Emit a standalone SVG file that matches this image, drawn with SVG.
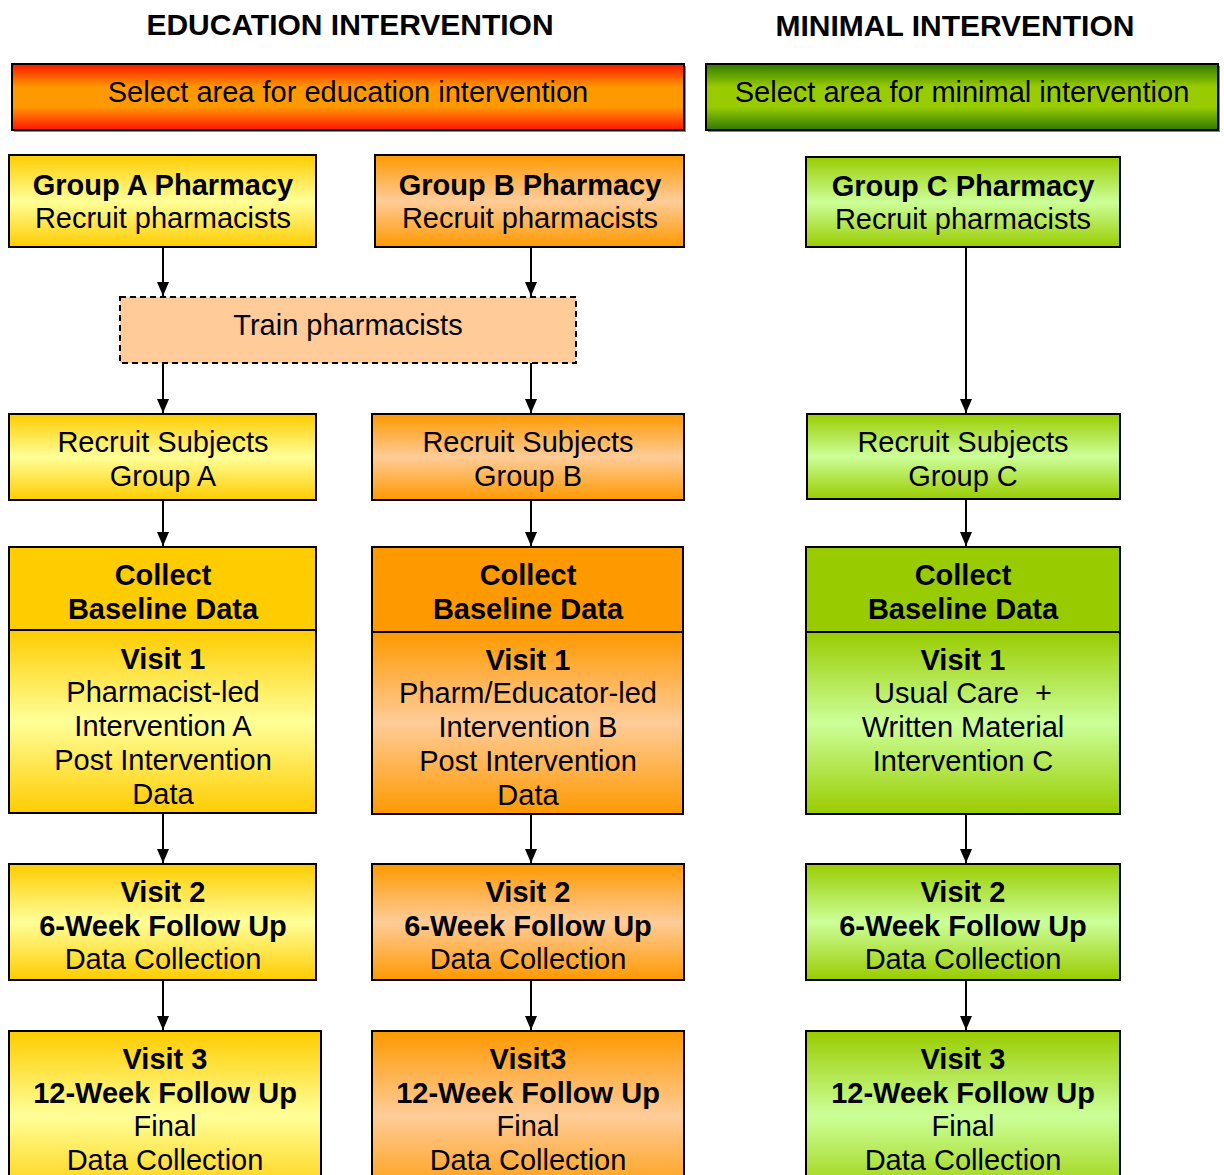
<svg xmlns="http://www.w3.org/2000/svg" width="1224" height="1175" viewBox="0 0 1224 1175">
<defs>
<linearGradient id="gy" x1="0" y1="0" x2="0" y2="1">
<stop offset="0" stop-color="#FFCC00"/><stop offset="0.5" stop-color="#FFFF99"/><stop offset="1" stop-color="#FFCC00"/>
</linearGradient>
<linearGradient id="go" x1="0" y1="0" x2="0" y2="1">
<stop offset="0" stop-color="#FF9900"/><stop offset="0.5" stop-color="#FFCC99"/><stop offset="1" stop-color="#FF9900"/>
</linearGradient>
<linearGradient id="gg" x1="0" y1="0" x2="0" y2="1">
<stop offset="0" stop-color="#99CC00"/><stop offset="0.5" stop-color="#CCFF99"/><stop offset="1" stop-color="#99CC00"/>
</linearGradient>
<linearGradient id="gr" x1="0" y1="0" x2="0" y2="1">
<stop offset="0" stop-color="#FF1500"/><stop offset="0.35" stop-color="#FF9900"/><stop offset="0.65" stop-color="#FF9900"/><stop offset="1" stop-color="#FF1500"/>
</linearGradient>
<linearGradient id="gd" x1="0" y1="0" x2="0" y2="1">
<stop offset="0" stop-color="#2F7A00"/><stop offset="0.35" stop-color="#99CC00"/><stop offset="0.65" stop-color="#99CC00"/><stop offset="1" stop-color="#2F7A00"/>
</linearGradient>
<marker id="ah" viewBox="0 0 14 12" refX="14" refY="6" markerWidth="14" markerHeight="12" markerUnits="userSpaceOnUse" orient="auto">
<path d="M0,0 L14,6 L0,12 Z" fill="#000"/>
</marker>
</defs>
<style>
text{font-family:"Liberation Sans",Arial,sans-serif;font-size:29px;fill:#000;text-anchor:middle}
.b{font-weight:bold}
.t{font-weight:bold;font-size:30px}
.box{stroke:#000;stroke-width:2}
.sh{fill:#888}
.c line{stroke:#000;stroke-width:2}
</style>

<text class="t" x="350" y="35">EDUCATION INTERVENTION</text>
<text class="t" x="955" y="36">MINIMAL INTERVENTION</text>

<g id="banner-edu">
<rect class="sh" x="14" y="66" width="672" height="66"/>
<rect class="box" x="12" y="64" width="672" height="66" fill="url(#gr)"/>
<text x="348" y="102">Select area for education intervention</text>
</g>
<g id="banner-min">
<rect class="sh" x="708" y="66" width="512" height="66"/>
<rect class="box" x="706" y="64" width="512" height="66" fill="url(#gd)"/>
<text x="962" y="102">Select area for minimal intervention</text>
</g>

<g id="groupA">
<rect class="box" x="9" y="155" width="307" height="92" fill="url(#gy)"/>
<text class="b" x="163" y="195">Group A Pharmacy</text>
<text x="163" y="228">Recruit pharmacists</text>
</g>
<g id="groupB">
<rect class="box" x="375" y="155" width="309" height="92" fill="url(#go)"/>
<text class="b" x="530" y="195">Group B Pharmacy</text>
<text x="530" y="228">Recruit pharmacists</text>
</g>
<g id="groupC">
<rect class="box" x="806" y="157" width="314" height="90" fill="url(#gg)"/>
<text class="b" x="963" y="196">Group C Pharmacy</text>
<text x="963" y="229">Recruit pharmacists</text>
</g>

<g id="train">
<rect x="120" y="297" width="456" height="66" fill="#FFCC99" stroke="#000" stroke-width="2" stroke-dasharray="6,4"/>
<text x="348" y="335">Train pharmacists</text>
</g>

<g id="recruitA">
<rect class="box" x="9" y="414" width="307" height="86" fill="url(#gy)"/>
<text x="163" y="452">Recruit Subjects</text>
<text x="163" y="486">Group A</text>
</g>
<g id="recruitB">
<rect class="box" x="372" y="414" width="312" height="86" fill="url(#go)"/>
<text x="528" y="452">Recruit Subjects</text>
<text x="528" y="486">Group B</text>
</g>
<g id="recruitC">
<rect class="box" x="807" y="414" width="313" height="85" fill="url(#gg)"/>
<text x="963" y="452">Recruit Subjects</text>
<text x="963" y="486">Group C</text>
</g>

<g id="collectA">
<rect class="box" x="9" y="630" width="307" height="183" fill="url(#gy)"/>
<rect class="box" x="9" y="547" width="307" height="83" fill="#FFCC00"/>
<text class="b" x="163" y="585">Collect</text>
<text class="b" x="163" y="619">Baseline Data</text>
<text class="b" x="163" y="669">Visit 1</text>
<text x="163" y="702">Pharmacist-led</text>
<text x="163" y="736">Intervention A</text>
<text x="163" y="770">Post Intervention</text>
<text x="163" y="804">Data</text>
</g>
<g id="collectB">
<rect class="box" x="372" y="632" width="311" height="182" fill="url(#go)"/>
<rect class="box" x="372" y="547" width="311" height="85" fill="#FF9900"/>
<text class="b" x="528" y="585">Collect</text>
<text class="b" x="528" y="619">Baseline Data</text>
<text class="b" x="528" y="670">Visit 1</text>
<text x="528" y="703">Pharm/Educator-led</text>
<text x="528" y="737">Intervention B</text>
<text x="528" y="771">Post Intervention</text>
<text x="528" y="805">Data</text>
</g>
<g id="collectC">
<rect class="box" x="806" y="632" width="314" height="182" fill="url(#gg)"/>
<rect class="box" x="806" y="547" width="314" height="85" fill="#99CC00"/>
<text class="b" x="963" y="585">Collect</text>
<text class="b" x="963" y="619">Baseline Data</text>
<text class="b" x="963" y="670">Visit 1</text>
<text x="963" y="703" xml:space="preserve">Usual Care  +</text>
<text x="963" y="737">Written Material</text>
<text x="963" y="771">Intervention C</text>
</g>

<g id="visit2A">
<rect class="box" x="9" y="864" width="307" height="116" fill="url(#gy)"/>
<text class="b" x="163" y="902">Visit 2</text>
<text class="b" x="163" y="936">6-Week Follow Up</text>
<text x="163" y="969">Data Collection</text>
</g>
<g id="visit2B">
<rect class="box" x="372" y="864" width="312" height="116" fill="url(#go)"/>
<text class="b" x="528" y="902">Visit 2</text>
<text class="b" x="528" y="936">6-Week Follow Up</text>
<text x="528" y="969">Data Collection</text>
</g>
<g id="visit2C">
<rect class="box" x="806" y="864" width="314" height="116" fill="url(#gg)"/>
<text class="b" x="963" y="902">Visit 2</text>
<text class="b" x="963" y="936">6-Week Follow Up</text>
<text x="963" y="969">Data Collection</text>
</g>

<g id="visit3A">
<rect class="box" x="9" y="1031" width="312" height="170" fill="url(#gy)"/>
<text class="b" x="165" y="1069">Visit 3</text>
<text class="b" x="165" y="1103">12-Week Follow Up</text>
<text x="165" y="1136">Final</text>
<text x="165" y="1170">Data Collection</text>
</g>
<g id="visit3B">
<rect class="box" x="372" y="1031" width="312" height="170" fill="url(#go)"/>
<text class="b" x="528" y="1069">Visit3</text>
<text class="b" x="528" y="1103">12-Week Follow Up</text>
<text x="528" y="1136">Final</text>
<text x="528" y="1170">Data Collection</text>
</g>
<g id="visit3C">
<rect class="box" x="806" y="1031" width="314" height="170" fill="url(#gg)"/>
<text class="b" x="963" y="1069">Visit 3</text>
<text class="b" x="963" y="1103">12-Week Follow Up</text>
<text x="963" y="1136">Final</text>
<text x="963" y="1170">Data Collection</text>
</g>

<g id="connectors" class="c">
<line x1="163" y1="247" x2="163" y2="296" marker-end="url(#ah)"/>
<line x1="531" y1="247" x2="531" y2="296" marker-end="url(#ah)"/>
<line x1="163" y1="363" x2="163" y2="413" marker-end="url(#ah)"/>
<line x1="531" y1="363" x2="531" y2="413" marker-end="url(#ah)"/>
<line x1="966" y1="247" x2="966" y2="413" marker-end="url(#ah)"/>
<line x1="163" y1="500" x2="163" y2="546" marker-end="url(#ah)"/>
<line x1="531" y1="500" x2="531" y2="546" marker-end="url(#ah)"/>
<line x1="966" y1="499" x2="966" y2="546" marker-end="url(#ah)"/>
<line x1="163" y1="813" x2="163" y2="863" marker-end="url(#ah)"/>
<line x1="531" y1="814" x2="531" y2="863" marker-end="url(#ah)"/>
<line x1="966" y1="814" x2="966" y2="863" marker-end="url(#ah)"/>
<line x1="163" y1="980" x2="163" y2="1030" marker-end="url(#ah)"/>
<line x1="531" y1="980" x2="531" y2="1030" marker-end="url(#ah)"/>
<line x1="966" y1="980" x2="966" y2="1030" marker-end="url(#ah)"/>
</g>
</svg>
